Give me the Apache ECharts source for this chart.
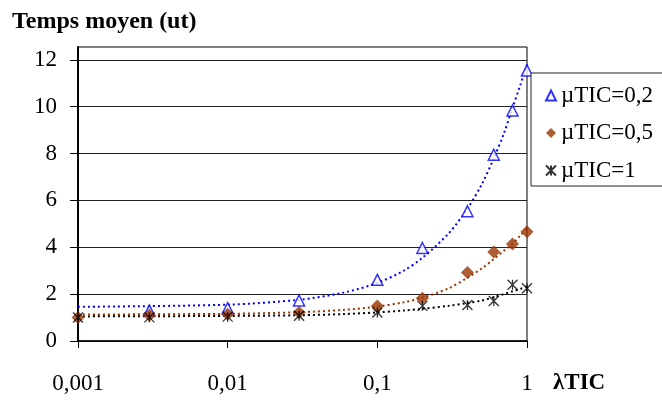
<!DOCTYPE html>
<html>
<head>
<meta charset="utf-8">
<script src="https://cdn.jsdelivr.net/npm/echarts@6/dist/echarts.min.js"></script>
<style>
  html, body { margin: 0; padding: 0; background: #fff; }
  #chart { width: 662px; height: 401px; }
</style>
</head>
<body>
<div id="chart"></div>
<script>
// valeurs
const lambdaTIC = [0.001, 0.003, 0.01, 0.03, 0.1, 0.2, 0.4, 0.6, 0.8, 1];
const mu02 = [null, 1.30, 1.40, 1.73, 2.61, 3.97, 5.54, 7.95, 9.84, 11.55];
const mu05 = [1.00, 1.10, 1.14, 1.22, 1.49, 1.82, 2.92, 3.80, 4.14, 4.66];
const mu1 = [1.00, 1.01, 1.04, 1.08, 1.22, 1.50, 1.54, 1.71, 2.40, 2.25];

// courbes de tendance (pointillés), lues aussi sur le graphique
const trendX = [0.001, 0.01, 0.03, 0.06, 0.1, 0.15, 0.2, 0.3, 0.4, 0.5, 0.6, 0.7, 0.8, 0.9, 1];
const trend02 = [1.46, 1.55, 1.76, 2.07, 2.48, 3.0, 3.55, 4.6, 5.65, 6.7, 7.8, 8.85, 9.95, 10.9, 11.8];
const trend05 = [1.13, 1.16, 1.23, 1.33, 1.47, 1.65, 1.85, 2.25, 2.7, 3.1, 3.5, 3.85, 4.15, 4.5, 4.8];
const trend1 = [1.05, 1.07, 1.1, 1.15, 1.22, 1.3, 1.38, 1.5, 1.62, 1.73, 1.87, 2.0, 2.12, 2.22, 2.32];

const xTickLabels = ['0,001', '0,01', '0,1', '1'];
const yTicks = [0, 2, 4, 6, 8, 10, 12];
const seriesNames = ['µTIC=0,2', 'µTIC=0,5', 'µTIC=1'];

const FONT = '"Liberation Serif", "DejaVu Serif", serif';
const starPath = 'path://M0,0L10,10M10,0L0,10M5,0L5,10';

const pairs = (xs, ys) => xs.map((x, i) => [x, ys[i]]).filter(p => p[1] !== null);

const chart = echarts.init(document.getElementById('chart'));

const trendSeries = (data, color, dash) => ({
  type: 'line',
  data: data,
  smooth: 0.3,
  symbol: 'none',
  silent: true,
  z: 2,
  lineStyle: { color: color, width: 2, type: dash }
});

const option = {
  animation: false,
  grid: {
    left: 78, right: 135, top: 47, bottom: 60,
    show: true, borderColor: '#000', borderWidth: 1
  },
  graphic: [
    {
      type: 'text', left: 12, top: 10,
      style: { text: 'Temps moyen (ut)', font: 'bold 24px ' + FONT, fill: '#000' }
    },
    {
      type: 'text', left: 553, top: 372,
      style: { text: 'λTIC', font: 'bold 23px ' + FONT, fill: '#000' }
    }
  ],
  legend: {
    orient: 'vertical',
    left: 531, top: 73,
    padding: [9, 12, 2, 14],
    itemGap: 10.5,
    itemWidth: 10,
    itemHeight: 10,
    borderColor: '#222',
    borderWidth: 1,
    backgroundColor: '#fff',
    textStyle: { fontFamily: FONT, fontSize: 23, color: '#000', lineHeight: 24, padding: [3, 0, 0, 0] },
    data: [
      { name: seriesNames[0], icon: 'triangle' },
      { name: seriesNames[1], icon: 'diamond' },
      { name: seriesNames[2], icon: starPath }
    ]
  },
  xAxis: {
    type: 'log',
    logBase: 10,
    min: 0.001,
    max: 1,
    axisLine: { lineStyle: { color: '#000', width: 1.5 } },
    axisTick: { length: 7, lineStyle: { color: '#000' } },
    minorTick: { show: false },
    splitLine: { show: false },
    axisLabel: {
      margin: 31,
      fontFamily: FONT, fontSize: 23, color: '#000',
      formatter: v => xTickLabels[Math.round(Math.log10(v)) + 3]
    }
  },
  yAxis: {
    type: 'value',
    min: 0,
    max: 12.55,
    interval: 2,
    axisLine: { show: true, lineStyle: { color: '#000', width: 2 } },
    axisTick: { show: true, length: 8, customValues: yTicks, lineStyle: { color: '#000' } },
    splitLine: { lineStyle: { color: '#222', width: 1 } },
    axisLabel: {
      margin: 21,
      customValues: yTicks,
      fontFamily: FONT, fontSize: 23, color: '#000',
      formatter: v => (v % 2 === 0 && v <= 12 ? String(v) : '')
    }
  },
  series: [
    trendSeries(pairs(trendX, trend02), '#0000ff', [2, 3]),
    trendSeries(pairs(trendX, trend05), '#993300', [2, 3]),
    trendSeries(pairs(trendX, trend1), '#000000', [2, 3]),
    {
      name: seriesNames[0],
      type: 'scatter',
      data: pairs(lambdaTIC, mu02),
      symbol: 'triangle',
      symbolSize: 11,
      z: 3,
      itemStyle: { color: '#fff', borderColor: '#0000ff', borderWidth: 1.5 }
    },
    {
      name: seriesNames[1],
      type: 'scatter',
      data: pairs(lambdaTIC, mu05),
      symbol: 'diamond',
      symbolSize: 13,
      z: 4,
      itemStyle: { color: '#993300' }
    },
    {
      name: seriesNames[2],
      type: 'scatter',
      data: pairs(lambdaTIC, mu1),
      symbol: starPath,
      symbolSize: 10,
      z: 5,
      itemStyle: { color: '#000', borderColor: '#000', borderWidth: 1.3 }
    }
  ]
};

chart.setOption(option);
</script>
</body>
</html>
